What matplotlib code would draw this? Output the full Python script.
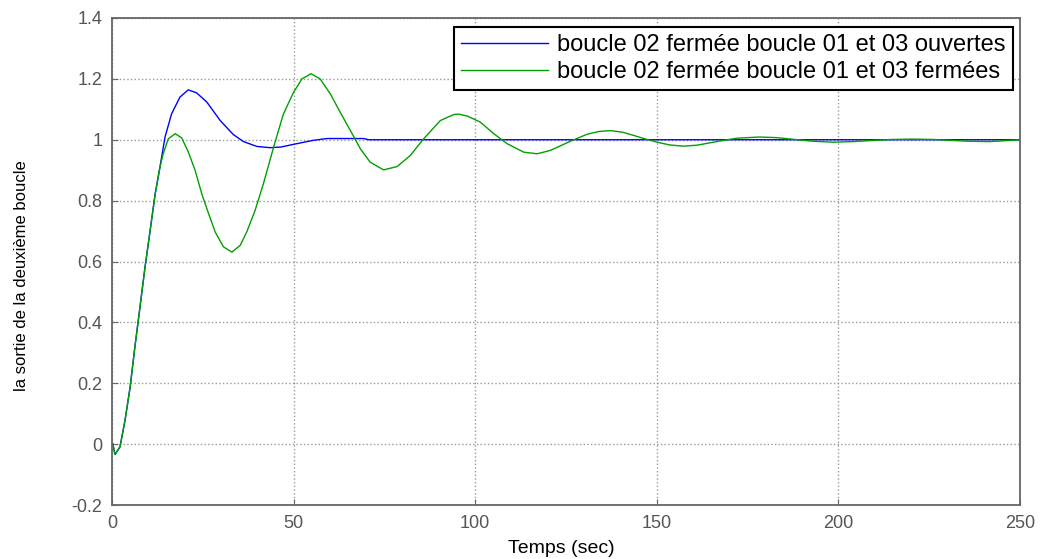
import numpy as np
import matplotlib
matplotlib.use("Agg")
import matplotlib.pyplot as plt
from matplotlib.ticker import FuncFormatter

plt.rcParams['font.family'] = ['Liberation Sans', 'DejaVu Sans']

# boucle 02 fermee, boucles 01 et 03 ouvertes
t_open = [0, 0.2, 0.83, 2.2, 3.6, 5.0, 6.3, 7.7, 9.1, 10.5, 11.9, 13.2, 14.6, 16.4, 18.7,
          21.0, 23.3, 26.1, 29.8, 33.4, 36.2, 39.9, 43.5, 46.5, 50, 55.4, 59.2, 69.3, 70.7, 250]
y_open = [0, 0.002, -0.034, -0.009, 0.079, 0.188, 0.319, 0.45, 0.582, 0.702, 0.823, 0.91, 1.009, 1.085, 1.14,
          1.164, 1.154, 1.124, 1.063, 1.017, 0.994, 0.978, 0.974, 0.976, 0.985, 0.998, 1.004, 1.004, 1.0, 1.0]

# boucle 02 fermee, boucles 01 et 03 fermees
t_closed = [0, 0.2, 0.83, 2.2, 3.6, 5.0, 6.3, 7.7, 9.1, 10.5, 11.9, 13.2, 14.1, 15.5, 17.4,
            19.2, 21.0, 22.9, 24.7, 26.6, 28.4, 30.7, 33.0, 35.3, 37.1, 39.4, 41.7, 44.5,
            47.2, 50.0, 52.3, 54.8, 57.3, 60.1, 62.8, 65.6, 68.4, 71.1, 74.8, 78.5, 82.1,
            85.8, 90.4, 94.1, 95.5, 97.8, 101.4, 105.1, 108.8, 113.4, 117.1, 120.7, 124,
            126.2, 130.8, 134, 137.3, 140.5, 143.7, 147, 150.1, 153.5, 157.2, 161, 167, 172,
            178.2, 183, 188, 193, 198.7, 204, 210, 215, 220.2, 226, 231, 236, 241.7, 246, 250]
y_closed = [0, 0.002, -0.034, -0.009, 0.079, 0.188, 0.319, 0.45, 0.582, 0.702, 0.823, 0.91, 0.954, 1.003, 1.02,
            1.006, 0.96, 0.899, 0.823, 0.757, 0.697, 0.648, 0.631, 0.653, 0.697, 0.768, 0.856, 0.976,
            1.085, 1.156, 1.2, 1.217, 1.2, 1.151, 1.091, 1.031, 0.97, 0.926, 0.901, 0.912, 0.948,
            1.003, 1.063, 1.083, 1.084, 1.078, 1.058, 1.020, 0.987, 0.959, 0.954, 0.965, 0.983,
            0.995, 1.018, 1.027, 1.03, 1.025, 1.014, 1.002, 0.992, 0.983, 0.979, 0.982, 0.995, 1.005,
            1.009, 1.007, 1.001, 0.995, 0.992, 0.994, 0.998, 1.001, 1.002, 1.001, 0.998, 0.995, 0.994, 0.997, 1.0]

labels = ['boucle 02 fermée boucle 01 et 03 ouvertes',
          'boucle 02 fermée boucle 01 et 03 fermées']
x_ticks = [0, 50, 100, 150, 200, 250]
y_ticks = [-0.2, 0, 0.2, 0.4, 0.6, 0.8, 1.0, 1.2, 1.4]

W, H = 1047, 559
fig = plt.figure(figsize=(W / 100, H / 100), dpi=100)
ax = fig.add_axes([112 / W, 1 - 505 / H, (1020 - 112) / W, (505 - 18) / H])

ax.plot(t_open, y_open, color='#0000ff', lw=1.0, label=labels[0])
ax.plot(t_closed, y_closed, color='#00a000', lw=1.0, label=labels[1])

ax.set_xlim(0, 250)
ax.set_ylim(-0.2, 1.4)
ax.set_xticks(x_ticks)
ax.set_yticks(y_ticks)
ax.yaxis.set_major_formatter(FuncFormatter(lambda v, p: '%g' % round(v, 2)))
ax.grid(True, linestyle=':', color='#999999', linewidth=1.0)
ax.tick_params(direction='in', length=4, colors='#666666', labelcolor='#555555',
               labelsize=13, pad=7)
for s in ax.spines.values():
    s.set_color('#666666')
    s.set_linewidth(1.3)

ax.set_xlabel('Temps (sec)', fontsize=14, va='center')
ax.xaxis.set_label_coords(0.495, -0.09)
ax.set_ylabel('la sortie de la deuxième boucle', fontsize=12, va='center')
ax.yaxis.set_label_coords(-0.1, 0.471)

leg = ax.legend(loc='upper right', bbox_to_anchor=(1013 / W, 1 - 27 / H),
                bbox_transform=fig.transFigure, borderaxespad=0, fontsize=17,
                fancybox=False, framealpha=1, edgecolor='black', handlelength=3.7,
                handletextpad=0.4, labelspacing=0.2, borderpad=0.3)
leg.get_frame().set_linewidth(1.5)

fig.savefig('out.png', dpi=100)
